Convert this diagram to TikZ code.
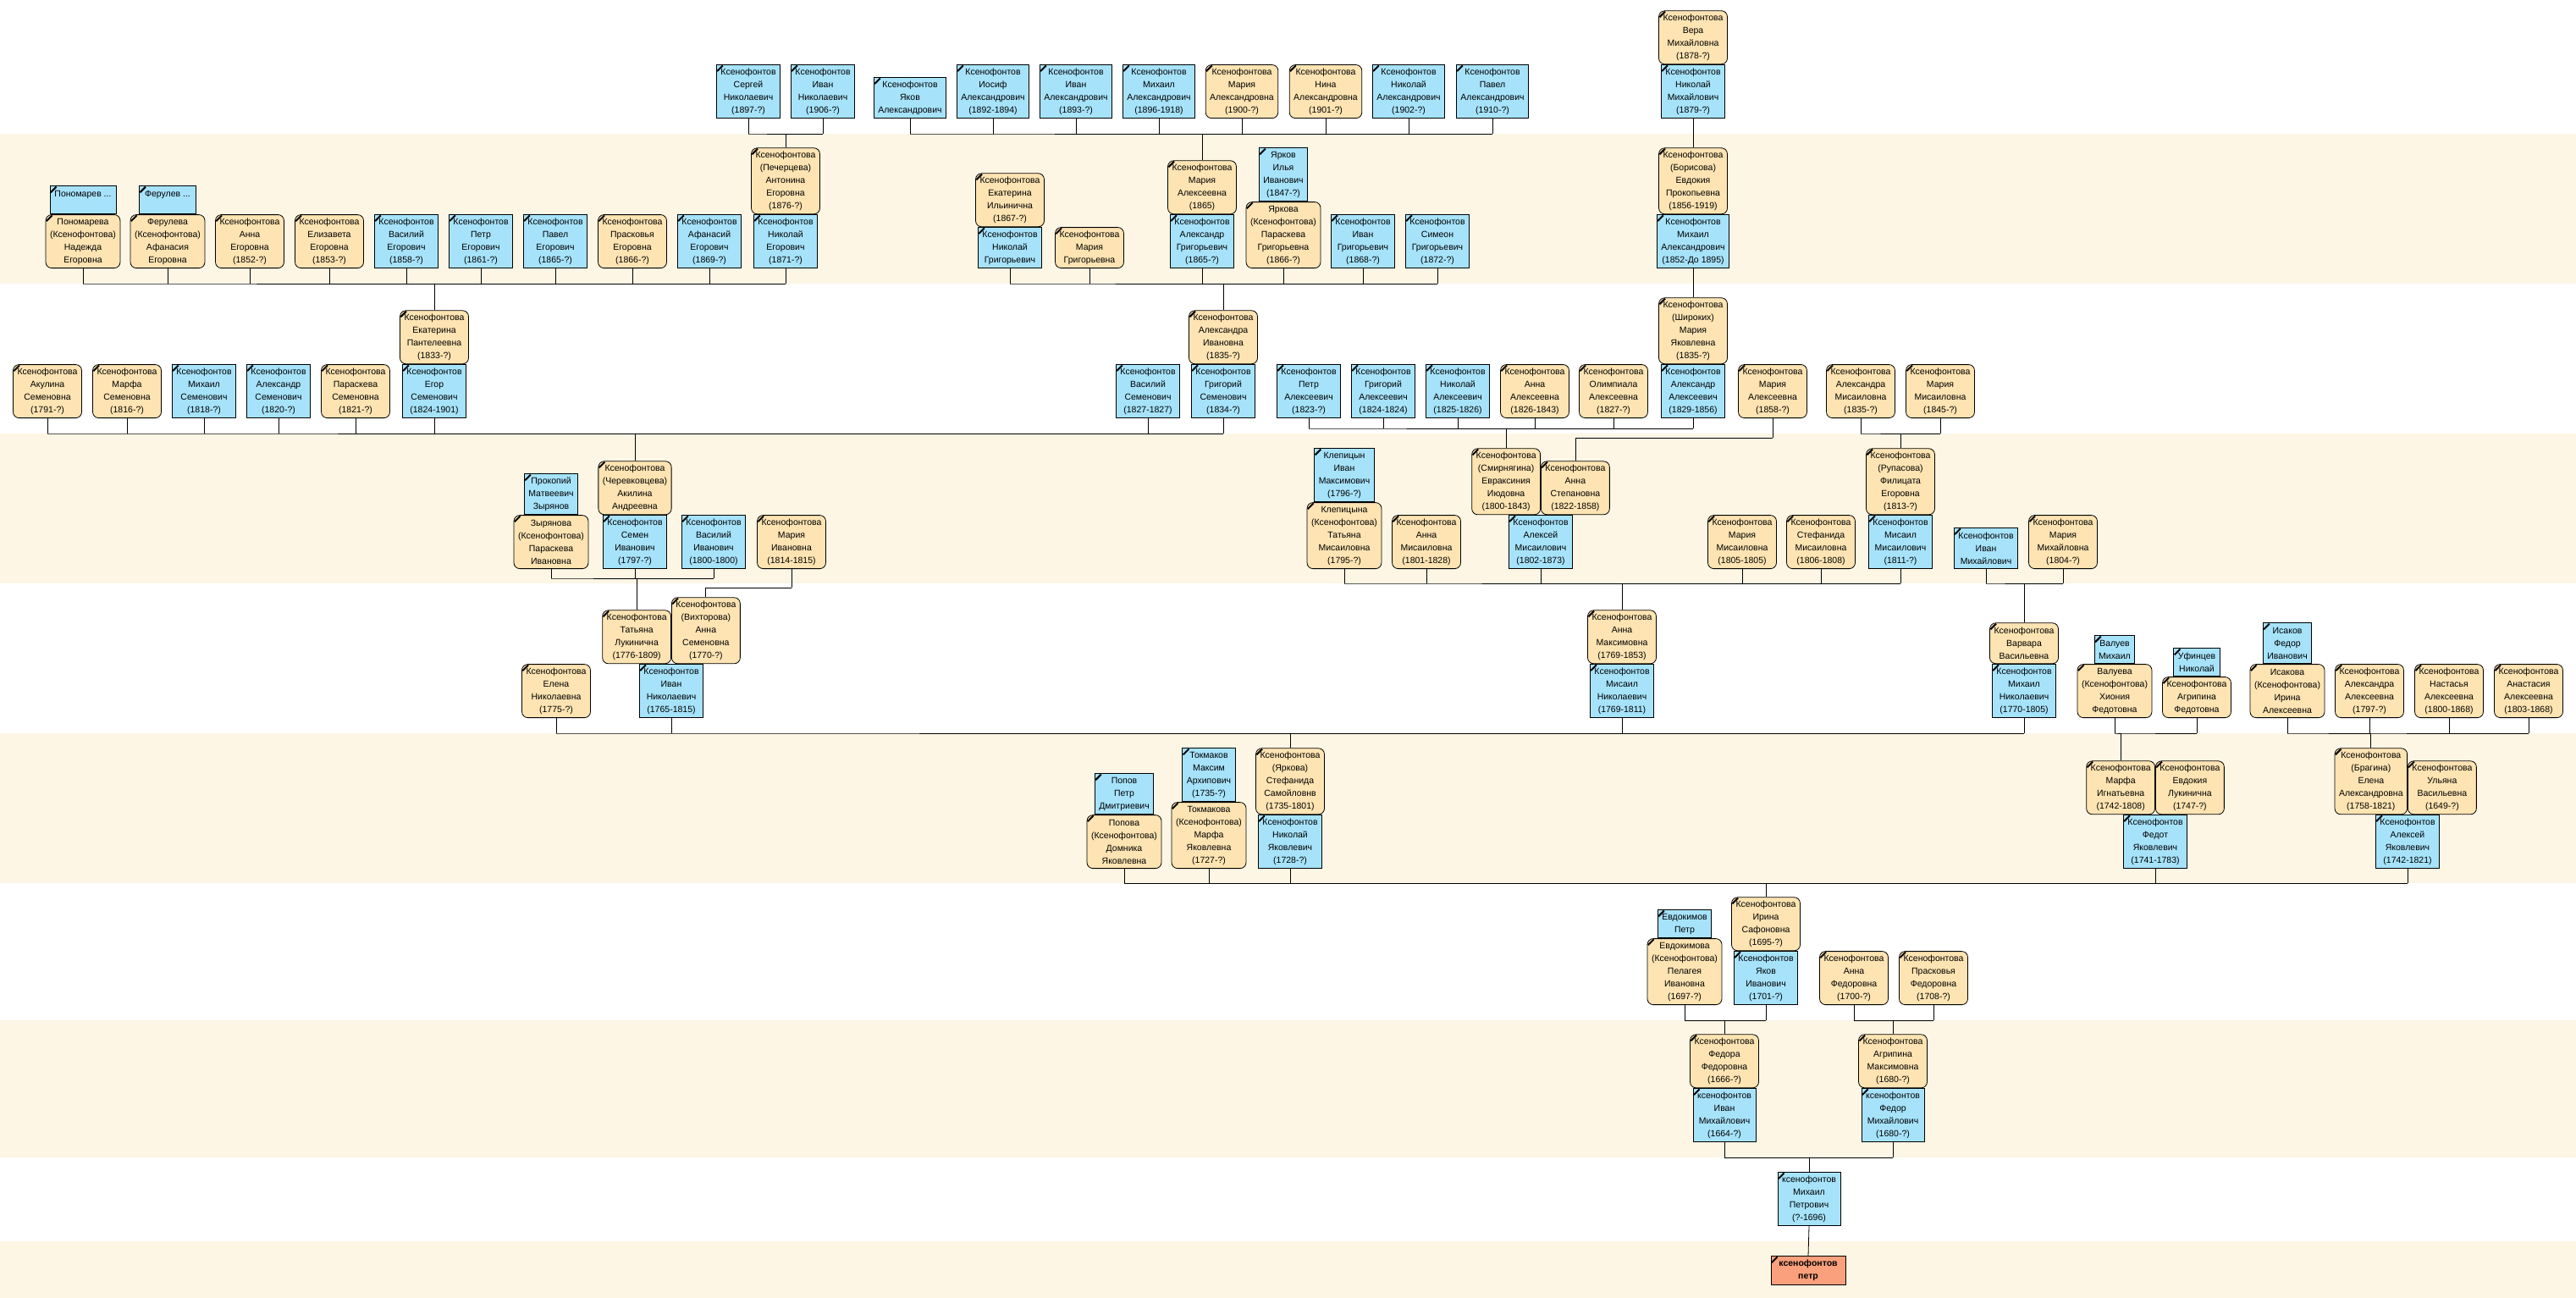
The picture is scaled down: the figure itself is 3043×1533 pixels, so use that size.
\documentclass[tikz,border=0pt]{standalone}
\usepackage{fontspec}
\setmainfont{Liberation Sans}
\definecolor{malefill}{RGB}{166,227,251}
\definecolor{femalefill}{RGB}{254,228,178}
\definecolor{bandfill}{RGB}{253,246,229}
\definecolor{rootfill}{RGB}{251,160,124}

\begin{document}
\begin{tikzpicture}[x=1pt, y=-1pt,
    person/.style={draw=black, line width=0.8pt, anchor=south, align=center,
        inner xsep=5pt, inner ysep=0pt, minimum height=63pt,
        font=\fontsize{10.5}{15}\selectfont,
        path picture={\draw[line width=2pt]
            ([shift={(0.8pt,-7.5pt)}]path picture bounding box.north west) --
            ([shift={(7.5pt,-0.8pt)}]path picture bounding box.north west);}},
    male/.style={person, fill=malefill},
    female/.style={person, fill=femalefill, rounded corners=7pt},
    h2/.style={minimum height=33pt},
    h3/.style={minimum height=48pt},
    h5/.style={minimum height=78pt},
    link/.style={draw=black, line width=0.8pt},
]
%------------------------------------------------------------------------------------------------
% generation bands
\useasboundingbox (0,0) rectangle (3043,1533);
\fill[white] (0,0) rectangle (3043,1533);
\foreach \top/\bot in {158/335, 512/689, 866/1043, 1205/1367, 1466/1533}
    \fill[bandfill] (0,\top) rectangle (3043,\bot);

%------------------------------------------------------------------------------------------------
% row 0
\node[male] (sergey) at (884,140) {Ксенофонтов\\Сергей\\Николаевич\\(1897-?)};
\node[male] (ivann) at (972,140) {Ксенофонтов\\Иван\\Николаевич\\(1906-?)};
\node[male, h3] (yakoval) at (1075,140) {Ксенофонтов\\Яков\\Александрович};
\node[male] (iosif) at (1173,140) {Ксенофонтов\\Иосиф\\Александрович\\(1892-1894)};
\node[male] (ivana) at (1271,140) {Ксенофонтов\\Иван\\Александрович\\(1893-?)};
\node[male] (mikhaila) at (1369,140) {Ксенофонтов\\Михаил\\Александрович\\(1896-1918)};
\node[female] (mariyaa) at (1467,140) {Ксенофонтова\\Мария\\Александровна\\(1900-?)};
\node[female] (nina) at (1566,140) {Ксенофонтова\\Нина\\Александровна\\(1901-?)};
\node[male] (nikolaya) at (1664,140) {Ксенофонтов\\Николай\\Александрович\\(1902-?)};
\node[male] (pavela) at (1763,140) {Ксенофонтов\\Павел\\Александрович\\(1910-?)};
\node[male] (nikm) at (2000,140) {Ксенофонтов\\Николай\\Михайлович\\(1879-?)};
\node[female] (vera) at (nikm.north) {Ксенофонтова\\Вера\\Михайловна\\(1878-?)};

% row 1
\node[female] (ponomareva) at (98,317) {Пономарева\\(Ксенофонтова)\\Надежда\\Егоровна};
\node[male, h2, minimum width=78pt] (ponomarev) at (ponomareva.north) {Пономарев ...\\\mbox{}};
\node[female] (feruleva) at (198,317) {Ферулева\\(Ксенофонтова)\\Афанасия\\Егоровна};
\node[male, h2, minimum width=67pt] (ferulev) at (feruleva.north) {Ферулев ...\\\mbox{}};
\node[female] (annae) at (295,317) {Ксенофонтова\\Анна\\Егоровна\\(1852-?)};
\node[female] (elizaveta) at (389,317) {Ксенофонтова\\Елизавета\\Егоровна\\(1853-?)};
\node[male] (vasiliye) at (480,317) {Ксенофонтов\\Василий\\Егорович\\(1858-?)};
\node[male] (petre) at (568,317) {Ксенофонтов\\Петр\\Егорович\\(1861-?)};
\node[male] (pavele) at (656,317) {Ксенофонтов\\Павел\\Егорович\\(1865-?)};
\node[female] (praskovyae) at (747,317) {Ксенофонтова\\Прасковья\\Егоровна\\(1866-?)};
\node[male] (afanasiy) at (838,317) {Ксенофонтов\\Афанасий\\Егорович\\(1869-?)};
\node[male] (nikeg) at (928,317) {Ксенофонтов\\Николай\\Егорович\\(1871-?)};
\node[female, h5] (antonina) at (nikeg.north) {Ксенофонтова\\(Печерцева)\\Антонина\\Егоровна\\(1876-?)};
\node[male, h3] (nikg) at (1193,317) {Ксенофонтов\\Николай\\Григорьевич};
\node[female] (ekaterinai) at (nikg.north) {Ксенофонтова\\Екатерина\\Ильинична\\(1867-?)};
\node[female, h3] (mariyag) at (1287,317) {Ксенофонтова\\Мария\\Григорьевна};
\node[male] (aleksandrg) at (1420,317) {Ксенофонтов\\Александр\\Григорьевич\\(1865-?)};
\node[female] (mariyaal) at (aleksandrg.north) {Ксенофонтова\\Мария\\Алексеевна\\(1865)};
\node[female, h5] (paraskevag) at (1516,317) {Яркова\\(Ксенофонтова)\\Параскева\\Григорьевна\\(1866-?)};
\node[male] (yarkov) at (paraskevag.north) {Ярков\\Илья\\Иванович\\(1847-?)};
\node[male] (ivang) at (1610,317) {Ксенофонтов\\Иван\\Григорьевич\\(1868-?)};
\node[male] (simeon) at (1698,317) {Ксенофонтов\\Симеон\\Григорьевич\\(1872-?)};
\node[male] (mikhailal) at (2000,317) {Ксенофонтов\\Михаил\\Александрович\\(1852-До 1895)};
\node[female, h5] (evdokiya) at (mikhailal.north) {Ксенофонтова\\(Борисова)\\Евдокия\\Прокопьевна\\(1856-1919)};

% row 2
\node[female] (akulina) at (56,494) {Ксенофонтова\\Акулина\\Семеновна\\(1791-?)};
\node[female] (marfas) at (150,494) {Ксенофонтова\\Марфа\\Семеновна\\(1816-?)};
\node[male] (mikhails) at (241,494) {Ксенофонтов\\Михаил\\Семенович\\(1818-?)};
\node[male] (aleksandrs) at (329,494) {Ксенофонтов\\Александр\\Семенович\\(1820-?)};
\node[female] (paraskevas) at (420,494) {Ксенофонтова\\Параскева\\Семеновна\\(1821-?)};
\node[male] (egor) at (513,494) {Ксенофонтов\\Егор\\Семенович\\(1824-1901)};
\node[female] (ekaterinap) at (egor.north) {Ксенофонтова\\Екатерина\\Пантелеевна\\(1833-?)};
\node[male] (vasiliys) at (1356,494) {Ксенофонтов\\Василий\\Семенович\\(1827-1827)};
\node[male] (grigoriys) at (1445,494) {Ксенофонтов\\Григорий\\Семенович\\(1834-?)};
\node[female] (aleksandrai) at (grigoriys.north) {Ксенофонтова\\Александра\\Ивановна\\(1835-?)};
\node[male] (petral) at (1546,494) {Ксенофонтов\\Петр\\Алексеевич\\(1823-?)};
\node[male] (grigoriyal) at (1634,494) {Ксенофонтов\\Григорий\\Алексеевич\\(1824-1824)};
\node[male] (nikolayal) at (1722,494) {Ксенофонтов\\Николай\\Алексеевич\\(1825-1826)};
\node[female] (annaal) at (1813,494) {Ксенофонтова\\Анна\\Алексеевна\\(1826-1843)};
\node[female] (olimpiala) at (1906,494) {Ксенофонтова\\Олимпиала\\Алексеевна\\(1827-?)};
\node[male] (aleksandral) at (2000,494) {Ксенофонтов\\Александр\\Алексеевич\\(1829-1856)};
\node[female, h5] (mariyash) at (aleksandral.north) {Ксенофонтова\\(Широких)\\Мария\\Яковлевна\\(1835-?)};
\node[female] (mariyaalb) at (2094,494) {Ксенофонтова\\Мария\\Алексеевна\\(1858-?)};
\node[female] (aleksandram) at (2198,494) {Ксенофонтова\\Александра\\Мисаиловна\\(1835-?)};
\node[female] (mariyam) at (2292,494) {Ксенофонтова\\Мария\\Мисаиловна\\(1845-?)};

% row 3
\node[female] (zyryanova) at (651,672) {Зырянова\\(Ксенофонтова)\\Параскева\\Ивановна};
\node[male, h3] (prokopiy) at (zyryanova.north) {Прокопий\\Матвеевич\\Зырянов};
\node[male] (semen) at (750,672) {Ксенофонтов\\Семен\\Иванович\\(1797-?)};
\node[female] (akilina) at (semen.north) {Ксенофонтова\\(Черевковцева)\\Акилина\\Андреевна};
\node[male] (vasiliyi) at (843,672) {Ксенофонтов\\Василий\\Иванович\\(1800-1800)};
\node[female] (mariyai) at (935,672) {Ксенофонтова\\Мария\\Ивановна\\(1814-1815)};
\node[female, h5] (klepitsyna) at (1588,672) {Клепицына\\(Ксенофонтова)\\Татьяна\\Мисаиловна\\(1795-?)};
\node[male] (klepitsyn) at (klepitsyna.north) {Клепицын\\Иван\\Максимович\\(1796-?)};
\node[female] (annam) at (1685,672) {Ксенофонтова\\Анна\\Мисаиловна\\(1801-1828)};
\node[male] (aleksey) at (1820,672) {Ксенофонтов\\Алексей\\Мисаилович\\(1802-1873)};
\node[female, h5, anchor=south east] (evraksiniya) at (aleksey.north) {Ксенофонтова\\(Смирнягина)\\Евраксиния\\Июдовна\\(1800-1843)};
\node[female, anchor=south west] (annas) at (aleksey.north) {Ксенофонтова\\Анна\\Степановна\\(1822-1858)};
\node[female] (mariyamm) at (2058,672) {Ксенофонтова\\Мария\\Мисаиловна\\(1805-1805)};
\node[female] (stefanidam) at (2151,672) {Ксенофонтова\\Стефанида\\Мисаиловна\\(1806-1808)};
\node[male] (misailm) at (2245,672) {Ксенофонтов\\Мисаил\\Мисаилович\\(1811-?)};
\node[female, h5] (filitsata) at (misailm.north) {Ксенофонтова\\(Рупасова)\\Филицата\\Егоровна\\(1813-?)};
\node[male, h3] (ivanm) at (2346,672) {Ксенофонтов\\Иван\\Михайлович};
\node[female] (mariyamih) at (2437,672) {Ксенофонтова\\Мария\\Михайловна\\(1804-?)};

% row 4
\node[female] (elena) at (657,848) {Ксенофонтова\\Елена\\Николаевна\\(1775-?)};
\node[male] (ivannik) at (793,848) {Ксенофонтов\\Иван\\Николаевич\\(1765-1815)};
\node[female, anchor=south east] (tatyana) at (ivannik.north) {Ксенофонтова\\Татьяна\\Лукинична\\(1776-1809)};
\node[female, h5, anchor=south west] (annav) at (ivannik.north) {Ксенофонтова\\(Вихторова)\\Анна\\Семеновна\\(1770-?)};
\node[male] (misailn) at (1916,848) {Ксенофонтов\\Мисаил\\Николаевич\\(1769-1811)};
\node[female] (annamax) at (misailn.north) {Ксенофонтова\\Анна\\Максимовна\\(1769-1853)};
\node[male] (mikhailn) at (2391,848) {Ксенофонтов\\Михаил\\Николаевич\\(1770-1805)};
\node[female, h3] (varvara) at (mikhailn.north) {Ксенофонтова\\Варвара\\Васильевна};
\node[female] (valueva) at (2498,848) {Валуева\\(Ксенофонтова)\\Хиония\\Федотовна};
\node[male, h2] (valuev) at (valueva.north) {Валуев\\Михаил};
\node[female, h3] (agripinaf) at (2595,848) {Ксенофонтова\\Агрипина\\Федотовна};
\node[male, h2] (ufintsev) at (agripinaf.north) {Уфинцев\\Николай};
\node[female] (isakova) at (2702,848) {Исакова\\(Ксенофонтова)\\Ирина\\Алексеевна};
\node[male, h3] (isakov) at (isakova.north) {Исаков\\Федор\\Иванович};
\node[female] (aleksandraa) at (2799,848) {Ксенофонтова\\Александра\\Алексеевна\\(1797-?)};
\node[female] (nastasya) at (2893,848) {Ксенофонтова\\Настасья\\Алексеевна\\(1800-1868)};
\node[female] (anastasiya) at (2987,848) {Ксенофонтова\\Анастасия\\Алексеевна\\(1803-1868)};

% row 5
\node[female] (popova) at (1328,1026) {Попова\\(Ксенофонтова)\\Домника\\Яковлевна};
\node[male, h3] (popov) at (popova.north) {Попов\\Петр\\Дмитриевич};
\node[female, h5] (tokmakova) at (1428,1026) {Токмакова\\(Ксенофонтова)\\Марфа\\Яковлевна\\(1727-?)};
\node[male] (tokmakov) at (tokmakova.north) {Токмаков\\Максим\\Архипович\\(1735-?)};
\node[male] (nikolayy) at (1524,1026) {Ксенофонтов\\Николай\\Яковлевич\\(1728-?)};
\node[female, h5] (stefanida) at (nikolayy.north) {Ксенофонтова\\(Яркова)\\Стефанида\\Самойловнв\\(1735-1801)};
\node[male] (fedot) at (2546,1026) {Ксенофонтов\\Федот\\Яковлевич\\(1741-1783)};
\node[female, anchor=south east] (marfai) at (fedot.north) {Ксенофонтова\\Марфа\\Игнатьевна\\(1742-1808)};
\node[female, anchor=south west] (evdokiyal) at (fedot.north) {Ксенофонтова\\Евдокия\\Лукинична\\(1747-?)};
\node[male] (alekseyy) at (2844,1026) {Ксенофонтов\\Алексей\\Яковлевич\\(1742-1821)};
\node[female, h5, anchor=south east] (elenab) at (alekseyy.north) {Ксенофонтова\\(Брагина)\\Елена\\Александровна\\(1758-1821)};
\node[female, anchor=south west] (ulyana) at (alekseyy.north) {Ксенофонтова\\Ульяна\\Васильевна\\(1649-?)};

% row 6
\node[female, h5] (pelageya) at (1990,1187) {Евдокимова\\(Ксенофонтова)\\Пелагея\\Ивановна\\(1697-?)};
\node[male, h2] (evdokimov) at (pelageya.north) {Евдокимов\\Петр};
\node[male] (yakovi) at (2086,1187) {Ксенофонтов\\Яков\\Иванович\\(1701-?)};
\node[female] (irina) at (yakovi.north) {Ксенофонтова\\Ирина\\Сафоновна\\(1695-?)};
\node[female] (annaf) at (2190,1187) {Ксенофонтова\\Анна\\Федоровна\\(1700-?)};
\node[female] (praskovyaf) at (2284,1187) {Ксенофонтова\\Прасковья\\Федоровна\\(1708-?)};

% row 7
\node[male] (ivanmih) at (2037,1349) {ксенофонтов\\Иван\\Михайлович\\(1664-?)};
\node[female] (fedora) at (ivanmih.north) {Ксенофонтова\\Федора\\Федоровна\\(1666-?)};
\node[male] (fedor) at (2236,1349) {ксенофонтов\\Федор\\Михайлович\\(1680-?)};
\node[female] (agripinam) at (fedor.north) {Ксенофонтова\\Агрипина\\Максимовна\\(1680-?)};

% row 8 and 9
\node[male] (mikhailp) at (2137,1448) {ксенофонтов\\Михаил\\Петрович\\(?-1696)};
\node[person, fill=rootfill, font=\fontsize{10.5}{15}\selectfont\bfseries,
    minimum height=34pt, minimum width=88pt] (root) at (2136,1518) {ксенофонтов\\петр};

%------------------------------------------------------------------------------------------------
% connector levels
\foreach \y/\name in {158/g0, 335/g1, 512/g2, 506/g2a, 517/g2b, 689/g3, 683/g3a, 694/g3b,
        866/g4, 1043/g5, 1205/g6, 1367/g7}
    \coordinate (\name) at (0,\y);

% drops from every child
\foreach \g/\kids in {
        g0/{sergey,ivann,yakoval,iosif,ivana,mikhaila,mariyaa,nina,nikolaya,pavela,nikm},
        g1/{ponomareva,feruleva,annae,elizaveta,vasiliye,petre,pavele,praskovyae,afanasiy,nikeg,
            nikg,mariyag,aleksandrg,paraskevag,ivang,simeon,mikhailal},
        g2/{akulina,marfas,mikhails,aleksandrs,paraskevas,egor,vasiliys,grigoriys,aleksandram,mariyam},
        g2a/{petral,grigoriyal,nikolayal,annaal,olimpiala,aleksandral},
        g2b/{mariyaalb},
        g3a/{zyryanova,semen,vasiliyi},
        g3b/{mariyai},
        g3/{klepitsyna,annam,aleksey,mariyamm,stefanidam,misailm,ivanm,mariyamih},
        g4/{elena,ivannik,misailn,mikhailn,valueva,agripinaf,isakova,aleksandraa,nastasya,anastasiya},
        g5/{popova,tokmakova,nikolayy,fedot,alekseyy},
        g6/{pelageya,yakovi,annaf,praskovyaf},
        g7/{ivanmih,fedor}}
    \foreach \c in \kids
        \draw[link] (\c.south) -- (\c.south |- \g);

% bars and parent drops
\foreach \p/\first/\last/\g in {antonina/sergey/ivann/g0, mariyaal/yakoval/pavela/g0,
        evdokiya/nikm/nikm/g0, ekaterinap/ponomareva/nikeg/g1, aleksandrai/nikg/simeon/g1,
        mariyash/mikhailal/mikhailal/g1, akilina/akulina/grigoriys/g2,
        evraksiniya/petral/aleksandral/g2a, annas/mariyaalb/mariyaalb/g2b,
        filitsata/aleksandram/mariyam/g2, tatyana/zyryanova/vasiliyi/g3a,
        annav/mariyai/mariyai/g3b, annamax/klepitsyna/misailm/g3, varvara/ivanm/mariyamih/g3,
        stefanida/elena/mikhailn/g4, marfai/valueva/agripinaf/g4, elenab/isakova/anastasiya/g4,
        irina/popova/alekseyy/g5, fedora/pelageya/yakovi/g6, agripinam/annaf/praskovyaf/g6,
        mikhailp/ivanmih/fedor/g7}
    \draw[link] (\p.north) -- (\p.north |- \g) -- (\first.south |- \g) -- (\last.south |- \g);

\draw[link] (mikhailp.south) -- (root.north);

\end{tikzpicture}
\end{document}
